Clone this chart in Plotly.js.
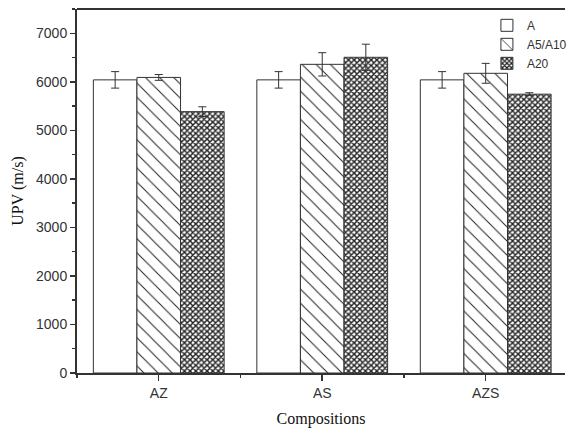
<!DOCTYPE html>
<html>
<head>
<meta charset="utf-8">
<script src="https://cdn.plot.ly/plotly-3.0.1.min.js"></script>
<style>html,body{margin:0;padding:0;background:#fff;}#chart{width:572px;height:432px;}</style>
</head>
<body>
<div id="chart"></div>
<script>
const categories = ["AZ", "AS", "AZS"];
const seriesNames = ["A", "A5/A10", "A20"];
const valuesA = [6040, 6040, 6040];
const errorsA = [170, 170, 170];
const valuesA5 = [6090, 6360, 6175];
const errorsA5 = [60, 240, 205];
const valuesA20 = [5385, 6505, 5745];
const errorsA20 = [100, 270, 30];

const xIdx = categories.map((c, i) => i);
const dark = "#333333";
const errStyle = {type: "data", visible: true, color: dark, thickness: 1, width: 4};

const traces = [
  {name: seriesNames[0], y: valuesA, err: errorsA, pattern: {shape: ""}},
  {name: seriesNames[1], y: valuesA5, err: errorsA5, pattern: {shape: "\\", size: 10, solidity: 0.1, fgcolor: "#222222", bgcolor: "#ffffff", fillmode: "replace"}},
  {name: seriesNames[2], y: valuesA20, err: errorsA20, pattern: {shape: "x", size: 4, solidity: 0.6, fgcolor: "#222222", bgcolor: "#ffffff", fillmode: "replace"}}
].map(t => ({
  type: "bar",
  name: t.name,
  x: xIdx,
  y: t.y,
  error_y: Object.assign({array: t.err}, errStyle),
  marker: {color: "#ffffff", line: {color: dark, width: 1}, pattern: t.pattern}
}));

const layout = {
  width: 572, height: 432,
  margin: {l: 77, r: 0, t: 9, b: 59},
  paper_bgcolor: "#ffffff", plot_bgcolor: "#ffffff",
  barmode: "group", bargap: 0.2, bargroupgap: 0,
  showlegend: true,
  legend: {x: 0.84, y: 0.995, xanchor: "left", yanchor: "top", bgcolor: "rgba(0,0,0,0)",
           font: {family: "Liberation Sans, Arial, sans-serif", size: 12, color: dark},
           tracegroupgap: 0, itemwidth: 30},
  font: {family: "Liberation Sans, Arial, sans-serif", size: 14, color: dark},
  xaxis: {
    range: [-0.5, 2.485], tickmode: "array", tickvals: xIdx, ticktext: categories,
    showline: true, linecolor: dark, linewidth: 2, ticks: "outside", ticklen: 6, tickwidth: 1.5, tickcolor: dark,
    showgrid: false, zeroline: false, fixedrange: true,
    minor: {tickmode: "array", tickvals: [-0.5, 0.5, 1.5, 2.5], ticks: "outside", ticklen: 3, tickwidth: 1.5, tickcolor: dark, showgrid: false},
    tickfont: {family: "Liberation Sans, Arial, sans-serif", size: 14, color: dark},
    title: {text: "Compositions", font: {family: "Liberation Serif, Times New Roman, serif", size: 16, color: "#111"}, standoff: 13}
  },
  yaxis: {
    range: [0, 7500], dtick: 1000, tick0: 0,
    showline: true, linecolor: dark, linewidth: 2, ticks: "outside", ticklen: 5, tickwidth: 1.5, tickcolor: dark,
    showgrid: false, zeroline: false, fixedrange: true,
    minor: {dtick: 500, ticks: "outside", ticklen: 3, tickwidth: 1.5, tickcolor: dark, showgrid: false},
    tickfont: {family: "Liberation Sans, Arial, sans-serif", size: 14, color: dark},
    title: {text: "UPV (m/s)", font: {family: "Liberation Serif, Times New Roman, serif", size: 16, color: "#111"}, standoff: 8}
  },
  shapes: [{type: "line", xref: "paper", yref: "paper", x0: 0, x1: 1, y0: 1, y1: 1, line: {color: dark, width: 2}}]
};

Plotly.newPlot("chart", traces, layout, {displayModeBar: false, staticPlot: true});
</script>
</body>
</html>
